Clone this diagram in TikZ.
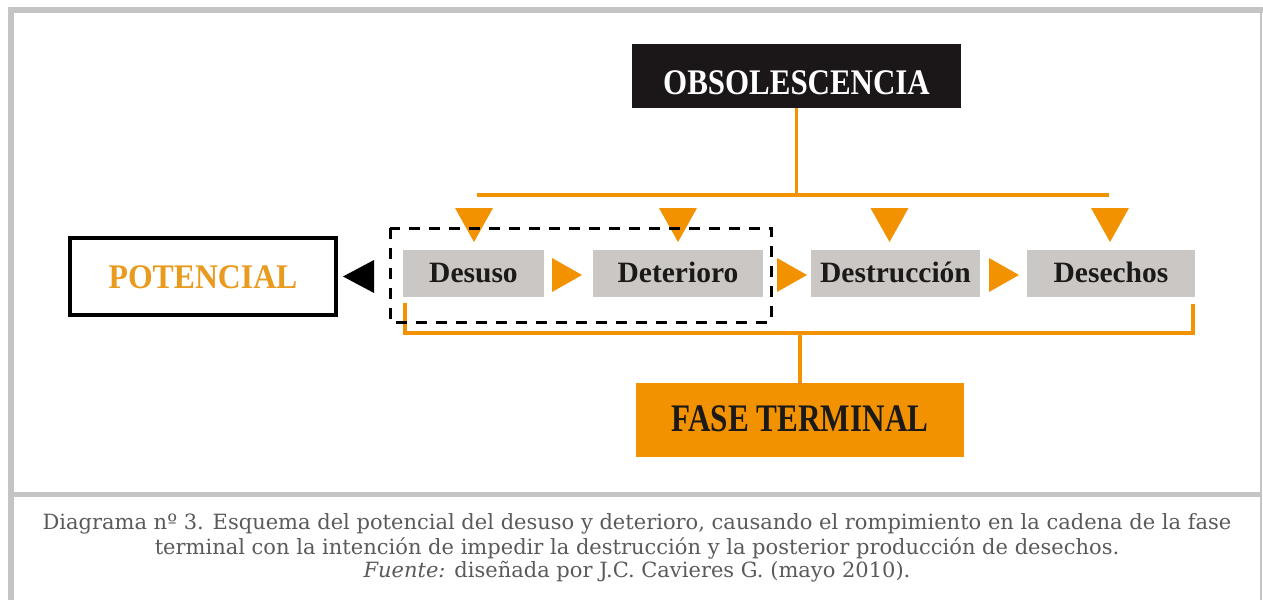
\documentclass[tikz,border=0pt]{standalone}
\usepackage{fontspec}
\setmainfont{Liberation Serif}
\newfontfamily\capfont{DejaVu Serif}
\usetikzlibrary{calc}
\definecolor{orng}{HTML}{F39200}
\definecolor{potorng}{HTML}{E89B1E}
\definecolor{boxgray}{HTML}{CAC7C4}
\definecolor{framegray}{HTML}{C4C4C4}
\definecolor{obsblack}{HTML}{1B1718}
\definecolor{inkdark}{HTML}{1C1A18}
\definecolor{captext}{HTML}{5A5A5A}
\tikzset{
  stage/.style={fill=boxgray, inner sep=0pt, text=inkdark,
    font=\fontsize{29.5}{30}\selectfont\bfseries,
    text height=32pt, text depth=15pt, minimum height=0pt},
  oline/.style={draw=orng, line width=3.2pt},
  capline/.style={anchor=base, text=captext, font=\capfont\fontsize{21}{24}\selectfont, inner sep=0pt}
}
\newcommand\dtri[1]{\fill[orng] (#1-19,208) -- (#1+19,208) -- (#1,242) -- cycle;}
\newcommand\rtri[1]{\fill[orng] (#1,258) -- (#1,292) -- (#1+30,275) -- cycle;}
\begin{document}
\begin{tikzpicture}[x=1pt,y=-1pt]
\useasboundingbox (0,0) rectangle (1263,600);
% frame
\fill[framegray] (8,7) rectangle (1263,13);
\fill[framegray] (8,7) rectangle (14,600);
\fill[framegray] (14,492) rectangle (1261,497);
\draw[framegray, line width=1.2pt] (1261,13) -- (1261,600);

% main nodes
\node[fill=obsblack, text=white, inner sep=0pt, minimum width=329pt,
      text height=50pt, text depth=14pt,
      font=\fontsize{36}{36}\selectfont\bfseries] (obs) at (796.5,76)
      {\scalebox{0.86}[1]{OBSOLESCENCIA}};
\node[draw=black, line width=3.2pt, fill=white, inner sep=0pt, minimum width=266pt,
      text height=50pt, text depth=27pt, text=potorng,
      font=\fontsize{34.5}{35}\selectfont\bfseries] (pot) at (203,276.5)
      {\scalebox{0.92}[1]{POTENCIAL}};
\node[fill=orng, inner sep=0pt, minimum width=328pt, text=inkdark,
      text height=48pt, text depth=26pt,
      font=\fontsize{39}{39}\selectfont\bfseries] (fase) at (800,420)
      {\scalebox{0.80}[1]{FASE TERMINAL}};

\node[stage, minimum width=141pt] (desuso) at (473.5,273.5) {Desuso};
\node[stage, minimum width=170pt] (deter) at (678,273.5) {Deterioro};
\node[stage, minimum width=169pt] (destr) at (895.5,273.5) {Destrucción};
\node[stage, minimum width=168pt] (desech) at (1111,273.5) {Desechos};

% orange connectors
\draw[oline] (obs.south) -- (obs.south |- 0,195);
\draw[oline] (477,195) -- (1109,195);
\draw[oline] (fase.north) -- (fase.north |- 0,333);
\coordinate (bl) at (405,303);
\coordinate (br) at (1193,304);
\draw[oline] (bl) -- (bl |- 0,333) -- (br |- 0,333) -- (br);

% arrowheads
\dtri{474}
\dtri{678}
\dtri{889.5}
\dtri{1110}
\rtri{552}
\rtri{777}
\rtri{989}
\fill[black] (343,276.5) -- (374,260) -- (374,293) -- cycle;

% dashed group
\draw[black, line width=3pt, dash pattern=on 11pt off 9pt] (390,228) rectangle (771,322);

% caption
\node[capline] (c1) at (637,529) {Diagrama nº 3. Esquema del potencial del desuso y deterioro, causando el rompimiento en la cadena de la fase};
\node[capline] (c2) at (637,554) {terminal con la intención de impedir la destrucción y la posterior producción de desechos.};
\node[capline] (c3) at (637,577) {\textit{Fuente:} diseñada por J.C. Cavieres G. (mayo 2010).};
\end{tikzpicture}
\end{document}
